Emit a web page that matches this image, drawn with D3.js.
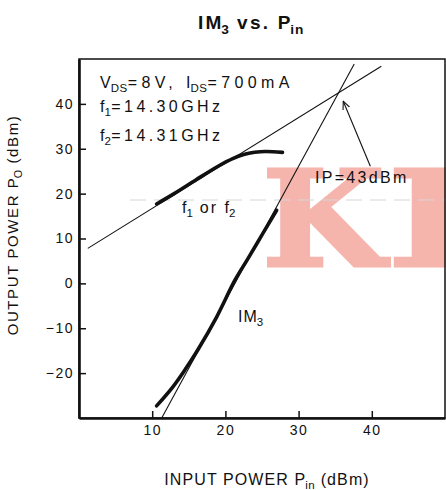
<!DOCTYPE html>
<html>
<head>
<meta charset="utf-8">
<script src="https://cdn.jsdelivr.net/npm/d3@7"></script>
<style>
  body { margin: 0; background: #fff; }
  svg { display: block; font-family: "Liberation Sans", Arial, sans-serif; }
</style>
</head>
<body>
<svg id="chart"></svg>
<script>
// values (Pin, Pout in dBm)
var xTicks = [10, 20, 30, 40];
var yTicks = [-20, -10, 0, 10, 20, 30, 40];

var fundPin  = [10.6, 13, 16, 19, 21, 22.5, 24, 25.5, 27.8];
var fundPout = [17.7, 20, 23.1, 26.1, 27.8, 28.7, 29.2, 29.4, 29.2];

var im3Pin  = [10.6, 12.8, 14.5, 16.2, 18.8, 21.3, 23, 25, 27];
var im3Pout = [-27.3, -23.1, -19.2, -14.9, -7.5, 0.7, 5.3, 10.8, 16.3];

// extrapolated straight lines
var fundAsymPin  = [1.2, 41.3];
var fundAsymPout = [7.8, 48.4];
var im3AsymPin   = [11.3, 37.6];
var im3AsymPout  = [-30, 48.9];

// leader to the intercept point
var arrowPin  = [39.8, 36.1];
var arrowPout = [26.1, 40.6];

var W = 446, H = 490;
var plot = { left: 79, right: 445, top: 59, bottom: 418 };

var svg = d3.select('#chart')
    .attr('width', W)
    .attr('height', H);

var x = d3.scaleLinear().domain([0, 50]).range([plot.left, plot.right]);
var y = d3.scaleLinear().domain([-30, 50]).range([plot.bottom, plot.top]);

var zip = (a, b) => a.map((v, i) => [v, b[i]]);

// text with subscripts: parts = [[text, isSub], ...]
function richText(g, parts, opts) {
    var ls = opts.ls || 0, subLs = opts.subLs || 0.5;
    var t = g.append('text')
        .attr('x', opts.x)
        .attr('y', opts.y)
        .attr('font-size', opts.size)
        .attr('font-weight', opts.weight || 'normal')
        .attr('text-anchor', opts.anchor || 'start')
        .attr('fill', '#111');
    if (opts.transform) t.attr('transform', opts.transform);
    var down = false;
    parts.forEach((p, i) => {
        if (p[1]) {
            var s = t.append('tspan').text(p[0])
                .attr('font-size', opts.size * 0.72).attr('letter-spacing', subLs);
            if (!down) s.attr('dy', opts.size * 0.28);
            down = true;
            return;
        }
        // no tracking after the letter that carries a subscript
        var nextSub = parts[i + 1] && parts[i + 1][1];
        var head = nextSub ? p[0].slice(0, -1) : p[0];
        var tail = nextSub ? p[0].slice(-1) : '';
        var first = true;
        [[head, ls], [tail, 0]].forEach(q => {
            if (!q[0]) return;
            var s = t.append('tspan').text(q[0]).attr('letter-spacing', q[1]);
            if (first && down) s.attr('dy', -opts.size * 0.28);
            first = false;
        });
        down = false;
    });
    return t;
}

// watermark
var wm = [['K', 262, 123], ['I', 387, 90]];
wm.forEach(w => {
    svg.append('text')
        .attr('x', w[1]).attr('y', 266)
        .attr('font-family', '"DejaVu Serif", serif')
        .attr('font-weight', 'bold')
        .attr('font-size', 132)
        .attr('textLength', w[2])
        .attr('lengthAdjust', 'spacingAndGlyphs')
        .attr('fill', '#f5b5ad')
        .attr('stroke', '#f5b5ad')
        .attr('stroke-width', 3)
        .text(w[0]);
});

// faint scan line
svg.append('line')
    .attr('x1', 130).attr('x2', W)
    .attr('y1', 200).attr('y2', 200)
    .attr('stroke', '#d6d6d6')
    .attr('stroke-dasharray', '16,8');

// frame
svg.append('rect')
    .attr('x', plot.left).attr('y', plot.top)
    .attr('width', plot.right - plot.left)
    .attr('height', plot.bottom - plot.top)
    .attr('fill', 'none')
    .attr('stroke', '#111')
    .attr('stroke-width', 1.5);

// axes, ticks point inwards
var xAxis = d3.axisBottom(x).tickValues(xTicks).tickSizeInner(-7).tickSizeOuter(0).tickPadding(7);
var yAxis = d3.axisLeft(y).tickValues(yTicks).tickSizeInner(-7).tickSizeOuter(0).tickPadding(5)
    .tickFormat(d => d < 0 ? '\u2212' + Math.abs(d) : d);

var gx = svg.append('g')
    .attr('transform', 'translate(0,' + plot.bottom + ')')
    .call(xAxis);
var gy = svg.append('g')
    .attr('transform', 'translate(' + plot.left + ',0)')
    .call(yAxis);

[gx, gy].forEach(g => {
    g.select('.domain').attr('stroke', '#111').attr('stroke-width', 2.6);
    g.selectAll('.tick line').attr('stroke', '#111').attr('stroke-width', 1.5);
    g.selectAll('.tick text')
        .attr('font-family', '"Liberation Sans", Arial, sans-serif')
        .attr('font-size', 14)
        .attr('letter-spacing', 1.5)
        .attr('fill', '#111');
});

// lines
var line = d3.line().x(d => x(d[0])).y(d => y(d[1]));
var curve = d3.line().x(d => x(d[0])).y(d => y(d[1])).curve(d3.curveCatmullRom);

svg.append('path')
    .attr('d', line(zip(fundAsymPin, fundAsymPout)))
    .attr('fill', 'none').attr('stroke', '#111').attr('stroke-width', 1.1);
svg.append('path')
    .attr('d', line(zip(im3AsymPin, im3AsymPout)))
    .attr('fill', 'none').attr('stroke', '#111').attr('stroke-width', 1.1);

svg.append('path')
    .attr('d', curve(zip(fundPin, fundPout)))
    .attr('fill', 'none').attr('stroke', '#111').attr('stroke-width', 3.6)
    .attr('stroke-linecap', 'round');
svg.append('path')
    .attr('d', curve(zip(im3Pin, im3Pout)))
    .attr('fill', 'none').attr('stroke', '#111').attr('stroke-width', 3.6)
    .attr('stroke-linecap', 'round');

// arrow to intercept
svg.append('defs').append('marker')
    .attr('id', 'arr')
    .attr('viewBox', '0 0 10 10')
    .attr('refX', 9).attr('refY', 5)
    .attr('markerWidth', 9).attr('markerHeight', 9)
    .attr('markerUnits', 'userSpaceOnUse')
    .attr('orient', 'auto')
    .append('path')
    .attr('d', 'M0,1 L9,5 L0,9')
    .attr('fill', 'none').attr('stroke', '#111').attr('stroke-width', 1.2);

svg.append('path')
    .attr('d', line(zip(arrowPin, arrowPout)))
    .attr('fill', 'none').attr('stroke', '#111').attr('stroke-width', 1.1)
    .attr('marker-end', 'url(#arr)');

// title
richText(svg, [['IM', 0], ['3', 1], [' vs. P', 0], ['in', 1]],
    { x: 251, y: 29, size: 19, weight: 'bold', anchor: 'middle', ls: 2.2, subLs: 0.8 });

// annotations
richText(svg, [['V', 0], ['DS', 1], ['=8V, I', 0], ['DS', 1], ['=700mA', 0]],
    { x: 100, y: 88, size: 16, ls: 4.4 });
richText(svg, [['f', 0], ['1', 1], ['=14.30GHz', 0]],
    { x: 100, y: 112, size: 16, ls: 3.4 });
richText(svg, [['f', 0], ['2', 1], ['=14.31GHz', 0]],
    { x: 100, y: 141, size: 16, ls: 3.4 });
richText(svg, [['IP=43dBm', 0]],
    { x: 315, y: 183, size: 16, ls: 2.3 });
richText(svg, [['f', 0], ['1', 1], [' or  f', 0], ['2', 1]],
    { x: 182, y: 213, size: 16, ls: 2 });
richText(svg, [['IM', 0], ['3', 1]],
    { x: 238, y: 322, size: 16, ls: 1 });

// axis titles
richText(svg, [['INPUT POWER P', 0], ['in', 1], [' (dBm)', 0]],
    { x: 267, y: 485, size: 16, ls: 1.1, anchor: 'middle' });
richText(svg, [['OUTPUT POWER P', 0], ['O', 1], [' (dBm)', 0]],
    { x: 0, y: 0, size: 15, ls: 1.6, anchor: 'middle', transform: 'translate(18,225) rotate(-90)' });
</script>
</body>
</html>
